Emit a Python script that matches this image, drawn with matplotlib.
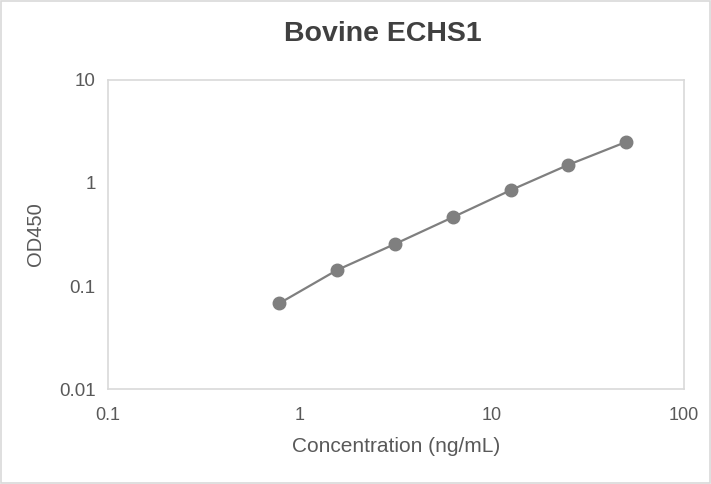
import matplotlib.pyplot as plt
from matplotlib.ticker import FixedLocator, FixedFormatter, NullLocator

plt.rcParams['font.family'] = ['Liberation Sans', 'DejaVu Sans']

# standard curve data
conc = [0.78, 1.56, 3.125, 6.25, 12.5, 25, 50]
od450 = [0.068, 0.143, 0.256, 0.465, 0.85, 1.5, 2.5]

x_ticks = [0.1, 1, 10, 100]
x_labels = ['0.1', '1', '10', '100']
y_ticks = [0.01, 0.1, 1, 10]
y_labels = ['0.01', '0.1', '1', '10']

fig = plt.figure(figsize=(7.11, 4.84), dpi=100)
ax = fig.add_axes([0.152, 0.196, 0.81, 0.639])

ax.plot(conc, od450, color='#7f7f7f', lw=1.6, marker='o', ms=9,
        markerfacecolor='#7f7f7f', markeredgecolor='#7f7f7f')

ax.set_xscale('log')
ax.set_yscale('log')
ax.set_xlim(0.1, 100)
ax.set_ylim(0.01, 10)
ax.xaxis.set_major_locator(FixedLocator(x_ticks))
ax.xaxis.set_major_formatter(FixedFormatter(x_labels))
ax.yaxis.set_major_locator(FixedLocator(y_ticks))
ax.yaxis.set_major_formatter(FixedFormatter(y_labels))
ax.xaxis.set_minor_locator(NullLocator())
ax.yaxis.set_minor_locator(NullLocator())
ax.tick_params(axis='x', length=0, labelsize=13, labelcolor='#595959', pad=13)
ax.tick_params(axis='y', length=0, labelsize=13.5, labelcolor='#595959', pad=9)

for s in ax.spines.values():
    s.set_color('#d9d9d9')
    s.set_linewidth(1.2)

ax.set_xlabel('Concentration (ng/mL)', fontsize=15, color='#595959', labelpad=9)
ax.set_ylabel('OD450', fontsize=14.5, color='#595959', labelpad=10)
fig.text(0.539, 0.93, 'Bovine ECHS1', fontsize=20.5, fontweight='bold',
         color='#404040', ha='center', va='center')

# outer chart border
fig.patches.append(plt.Rectangle((0.002, 0.002), 0.996, 0.996, transform=fig.transFigure,
                                 fill=False, edgecolor='#d9d9d9', lw=1.2))

fig.savefig('out.png', dpi=100)
